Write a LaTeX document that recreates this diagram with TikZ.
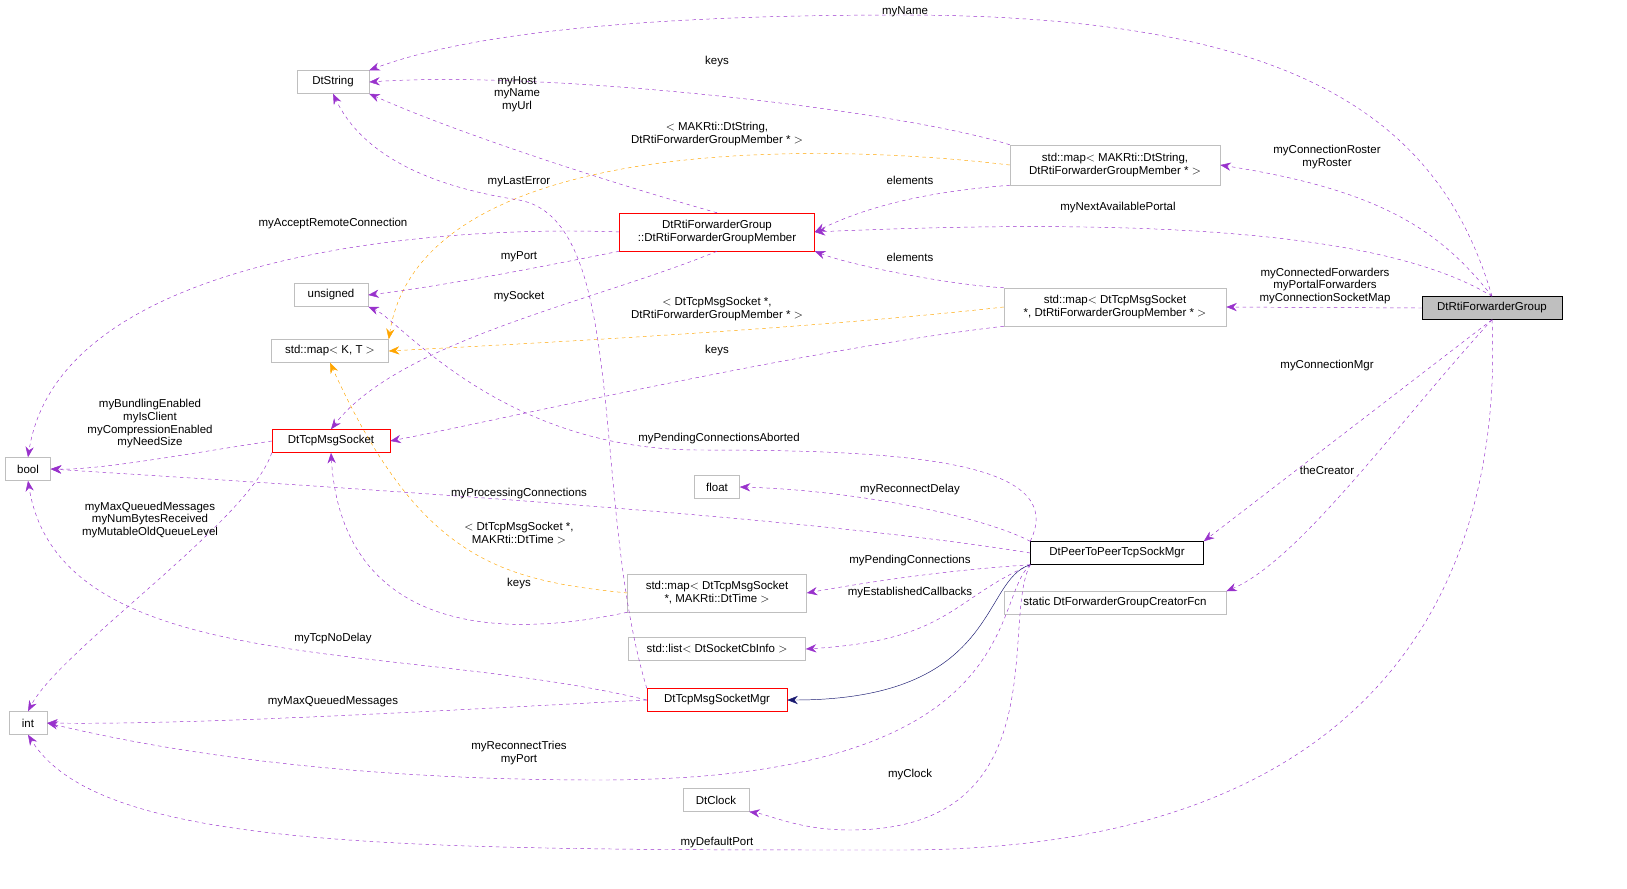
\documentclass[tikz,border=0pt]{standalone}
\usepackage{fontspec}
\setmainfont{Liberation Sans}
\usetikzlibrary{shapes,arrows.meta,positioning,calc}

\definecolor{edgepurple}{RGB}{153,50,204}
\definecolor{edgeorange}{RGB}{255,165,0}
\definecolor{edgenavy}{RGB}{25,25,112}
\definecolor{boxgray}{RGB}{191,191,191}

\newlength{\pxu}\setlength{\pxu}{0.03cm}
\tikzset{
  cls/.style={draw=boxgray, rectangle, inner sep=2pt, minimum height=23\pxu, font=\fontsize{9.8}{11}\selectfont, align=center},
  redcls/.style={cls, draw=red},
  blkcls/.style={cls, draw=black},
  usage/.style={draw=edgepurple, dashed, -{Stealth[length=9pt,width=7pt]}},
  tmpl/.style={draw=edgeorange, dashed, -{Stealth[length=9pt,width=7pt]}},
  inherit/.style={draw=edgenavy, -{Stealth[length=9pt,width=7pt]}},
  lbl/.style={font=\fontsize{9.8}{10.8}\selectfont, align=center, inner sep=0pt}
}

\begin{document}
\begin{tikzpicture}[x=0.03cm, y=-0.03cm]

% classes
\node[cls, fill=boxgray, draw=black, minimum width=140\pxu] (group) at (1492,308) {DtRtiForwarderGroup};
\node[cls, minimum width=72\pxu] (dtstring) at (333,82) {DtString};
\node[cls, minimum width=74\pxu] (unsigned) at (331,295) {unsigned};
\node[cls, minimum width=117\pxu] (mapkt) at (330,351) {std::map$<$ K, T $>$};
\node[cls, minimum width=45\pxu] (bool) at (28,469) {bool};
\node[cls, minimum width=38\pxu] (int) at (28,723) {int};
\node[redcls, minimum width=118\pxu] (tcpsock) at (331,441) {DtTcpMsgSocket};
\node[redcls, minimum width=195\pxu, minimum height=38\pxu] (member) at (717,232) {DtRtiForwarderGroup\\::DtRtiForwarderGroupMember};
\node[cls, minimum width=210\pxu, minimum height=40\pxu] (mapstr) at (1115,165) {std::map$<$ MAKRti::DtString,\\ DtRtiForwarderGroupMember * $>$};
\node[cls, minimum width=222\pxu, minimum height=38\pxu] (mapsock) at (1115,307) {std::map$<$ DtTcpMsgSocket\\ *, DtRtiForwarderGroupMember * $>$};
\node[cls, minimum width=45\pxu] (float) at (717,487) {float};
\node[blkcls, minimum width=173\pxu] (peer) at (1117,553) {DtPeerToPeerTcpSockMgr};
\node[cls, minimum width=222\pxu] (creator) at (1115,603) {static DtForwarderGroupCreatorFcn};
\node[cls, minimum width=179\pxu, minimum height=38\pxu] (maptime) at (717,593) {std::map$<$ DtTcpMsgSocket\\ *, MAKRti::DtTime $>$};
\node[cls, minimum width=177\pxu] (cblist) at (717,649) {std::list$<$ DtSocketCbInfo $>$};
\node[redcls, minimum width=140\pxu] (sockmgr) at (717,700) {DtTcpMsgSocketMgr};
\node[cls, minimum width=66\pxu] (clock) at (716,800) {DtClock};

% connectors
\draw[usage] (group.north) .. controls (1440,120) and (1300,15) .. (900,15) .. controls (600,15) and (450,40) .. (dtstring.north east);
\draw[usage] (mapstr.north west) .. controls (900,110) and (550,70) .. (dtstring.east);
\draw[usage] (member.north) .. controls (600,180) and (450,130) .. (dtstring.south east);
\draw[tmpl] (mapstr.west) .. controls (800,140) and (420,140) .. (mapkt.north east);
\draw[usage] (mapstr.south west) .. controls (950,190) and (880,200) .. (member.east);
\draw[usage] (group.north) .. controls (1440,230) and (1380,190) .. (mapstr.east);
\draw[usage] (group.north) .. controls (1400,240) and (1200,215) .. (member.east);
\draw[usage] (member.west) .. controls (450,225) and (60,250) .. (bool.north);
\draw[usage] (member.south west) .. controls (550,265) and (450,285) .. (unsigned.east);
\draw[usage] (member.south) .. controls (600,300) and (400,340) .. (tcpsock.north);
\draw[usage] (group.west) -- (mapsock.east);
\draw[usage] (mapsock.north west) .. controls (950,285) and (850,265) .. (member.south east);
\draw[tmpl] (mapsock.west) .. controls (800,330) and (500,345) .. (mapkt.east);
\draw[usage] (mapsock.south west) .. controls (800,350) and (500,420) .. (tcpsock.east);
\draw[usage] (sockmgr.north west) .. controls (590,500) and (630,220) .. (519,200) .. controls (420,185) and (360,150) .. (dtstring.south);
\draw[usage] (peer.north west) .. controls (1070,460) and (900,450) .. (700,450) .. controls (500,450) and (400,320) .. (unsigned.south east);
\draw[usage] (peer.north west) .. controls (980,515) and (850,490) .. (float.east);
\draw[usage] (peer.west) .. controls (800,515) and (300,485) .. (bool.east);
\draw[usage] (peer.south west) .. controls (950,570) and (880,580) .. (maptime.east);
\draw[usage] (peer.south west) .. controls (950,600) and (950,640) .. (cblist.east);
\draw[inherit] (peer.south west) .. controls (980,580) and (1000,700) .. (sockmgr.east);
\draw[usage] (peer.south west) .. controls (990,600) and (1030,780) .. (600,780) .. controls (300,780) and (120,740) .. (int.east);
\draw[usage] (peer.south west) .. controls (1000,620) and (1060,830) .. (850,830) .. controls (800,830) and (770,815) .. (clock.south east);
\draw[usage] (group.south) -- (peer.north east);
\draw[usage] (group.south) .. controls (1400,420) and (1300,560) .. (creator.north east);
\draw[usage] (group.south) .. controls (1500,500) and (1450,850) .. (900,850) .. controls (400,850) and (100,850) .. (int.south);
\draw[usage] (tcpsock.west) .. controls (180,455) and (100,470) .. (bool.east);
\draw[usage] (tcpsock.south west) .. controls (250,520) and (60,650) .. (int.north);
\draw[usage] (maptime.south west) .. controls (450,650) and (340,600) .. (tcpsock.south);
\draw[tmpl] (maptime.west) .. controls (500,580) and (420,560) .. (mapkt.south);
\draw[usage] (sockmgr.west) .. controls (400,640) and (60,680) .. (bool.south);
\draw[usage] (sockmgr.west) .. controls (450,710) and (200,725) .. (int.east);

% labels
\node[lbl] (l1) at (905,12) {myName};
\node[lbl] (l2) at (717,62) {keys};
\node[lbl] (l3) at (517,94) {myHost\\myName\\myUrl};
\node[lbl] (l4) at (717,134) {$<$ MAKRti::DtString,\\DtRtiForwarderGroupMember * $>$};
\node[lbl] (l5) at (910,180) {elements};
\node[lbl] (l6) at (1327,157) {myConnectionRoster\\myRoster};
\node[lbl] (l7) at (1118,208) {myNextAvailablePortal};
\node[lbl] (l8) at (333,224) {myAcceptRemoteConnection};
\node[lbl] (l9) at (519,257) {myPort};
\node[lbl] (l10) at (519,297) {mySocket};
\node[lbl] (l11) at (1325,286) {myConnectedForwarders\\myPortalForwarders\\myConnectionSocketMap};
\node[lbl] (l12) at (910,257) {elements};
\node[lbl] (l13) at (717,309) {$<$ DtTcpMsgSocket *,\\DtRtiForwarderGroupMember * $>$};
\node[lbl] (l14) at (717,351) {keys};
\node[lbl] (l15) at (519,182) {myLastError};
\node[lbl] (l16) at (719,439) {myPendingConnectionsAborted};
\node[lbl] (l17) at (910,490) {myReconnectDelay};
\node[lbl] (l18) at (519,494) {myProcessingConnections};
\node[lbl] (l19) at (910,561) {myPendingConnections};
\node[lbl] (l20) at (910,593) {myEstablishedCallbacks};
\node[lbl] (l21) at (519,753) {myReconnectTries\\myPort};
\node[lbl] (l22) at (910,775) {myClock};
\node[lbl] (l23) at (1327,366) {myConnectionMgr};
\node[lbl] (l24) at (1327,470) {theCreator};
\node[lbl] (l25) at (717,843) {myDefaultPort};
\node[lbl] (l26) at (150,424) {myBundlingEnabled\\myIsClient\\myCompressionEnabled\\myNeedSize};
\node[lbl] (l27) at (150,520) {myMaxQueuedMessages\\myNumBytesReceived\\myMutableOldQueueLevel};
\node[lbl] (l28) at (519,584) {keys};
\node[lbl] (l29) at (519,533) {$<$ DtTcpMsgSocket *,\\MAKRti::DtTime $>$};
\node[lbl] (l30) at (333,639) {myTcpNoDelay};
\node[lbl] (l31) at (333,702) {myMaxQueuedMessages};

\pgfresetboundingbox
\useasboundingbox (0,0) rectangle (1627,888);
\end{tikzpicture}
\end{document}
